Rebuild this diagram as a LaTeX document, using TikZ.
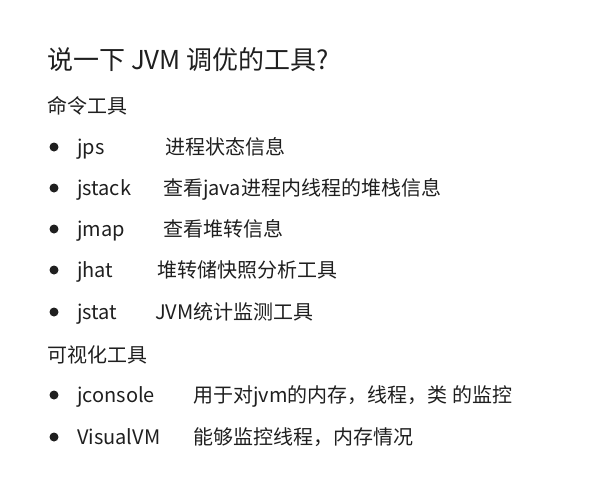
\documentclass[tikz,border=0pt]{standalone}
\usepackage{fontspec}
\setmainfont{Noto Sans CJK SC}
\usepackage{tikz}

\begin{document}
\begin{tikzpicture}[x=1pt,y=-1pt]
 \tikzstyle{title} = [anchor=base west,inner sep=0,text=black!88,font=\fontsize{26}{30}\selectfont]
 \tikzstyle{group} = [anchor=base west,inner sep=0,text=black!88,font=\fontsize{20}{24}\selectfont]
 \tikzstyle{tool} = [group]
 \tikzstyle{desc} = [group]
 \tikzstyle{dot} = [fill=black!88,circle,inner sep=0,minimum size=9]
 \newcommand{\bx}{54}
 \useasboundingbox (0,0) rectangle (602,483);

% Title
 \node[title] (t) at (47,69) {说一下 JVM 调优的工具?};

% Command tools
 \node[group] (g1) at (47,113) {命令工具};
 \node[dot] (b1) at (\bx,147) {}; \node[tool] (n1) at (77,154) {jps};     \node[desc] (d1) at (165,154) {进程状态信息};
 \node[dot] (b2) at (\bx,188) {}; \node[tool] (n2) at (77,195) {jstack};  \node[desc] (d2) at (163,195) {查看java进程内线程的堆栈信息};
 \node[dot] (b3) at (\bx,229) {}; \node[tool] (n3) at (77,236) {jmap};    \node[desc] (d3) at (163,236) {查看堆转信息};
 \node[dot] (b4) at (\bx,270) {}; \node[tool] (n4) at (77,277) {jhat};    \node[desc] (d4) at (157,277) {堆转储快照分析工具};
 \node[dot] (b5) at (\bx,312) {}; \node[tool] (n5) at (77,319) {jstat};   \node[desc] (d5) at (155,319) {JVM统计监测工具};

% Visual tools
 \node[group] (g2) at (47,362) {可视化工具};
 \node[dot] (b6) at (\bx,395) {}; \node[tool] (n6) at (77,402) {jconsole};  \node[desc] (d6) at (193,402) {用于对jvm的内存，线程，类 的监控};
 \node[dot] (b7) at (\bx,437) {}; \node[tool] (n7) at (77,444) {VisualVM};  \node[desc] (d7) at (193,444) {能够监控线程，内存情况};
\end{tikzpicture}
\end{document}
